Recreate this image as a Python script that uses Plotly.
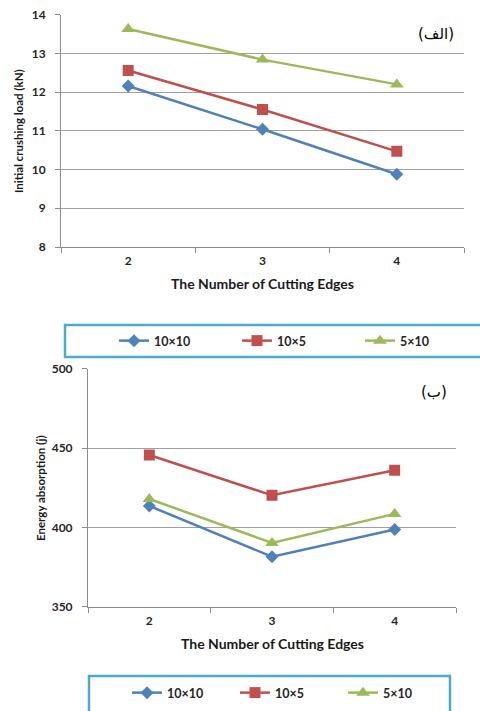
import plotly.graph_objects as go

W, H = 480, 711

# Categories (number of cutting edges)
edges = ["2", "3", "4"]
series_names = ["10×10", "10×5", "5×10"]

# Initial crushing load (kN)
load_10x10 = [12.16, 11.04, 9.88]
load_10x5 = [12.56, 11.55, 10.47]
load_5x10 = [13.63, 12.84, 12.20]

# Energy absorption (j)
energy_10x10 = [413.5, 381.5, 398.6]
energy_10x5 = [445.6, 420.2, 436.0]
energy_5x10 = [417.9, 390.2, 408.5]

load_ticks = [8, 9, 10, 11, 12, 13, 14]
energy_ticks = [350, 400, 450, 500]

COLORS = ["#4F81BD", "#C0504D", "#9BBB59"]
SYMBOLS = ["diamond", "square", "triangle-up"]
SIZES = [10, 11, 12]
FONT = "Lato"
AXIS_GRAY = "#8C8C8C"
BOX_COLOR = "#4BACC6"


def fx(px):
    return px / W


def fy(py):
    return 1 - py / H


fig = go.Figure()

for name, vals, col, sym, sz in zip(series_names, [load_10x10, load_10x5, load_5x10],
                                     COLORS, SYMBOLS, SIZES):
    fig.add_trace(go.Scatter(
        x=edges, y=vals, name=name, mode="lines+markers",
        line=dict(color=col, width=2.5),
        marker=dict(symbol=sym, size=sz, color=col),
        xaxis="x", yaxis="y", legend="legend",
    ))

for name, vals, col, sym, sz in zip(series_names, [energy_10x10, energy_10x5, energy_5x10],
                                     COLORS, SYMBOLS, SIZES):
    fig.add_trace(go.Scatter(
        x=edges, y=vals, name=name, mode="lines+markers",
        line=dict(color=col, width=2.5),
        marker=dict(symbol=sym, size=sz, color=col),
        xaxis="x2", yaxis="y2", legend="legend2",
    ))

tick_font = dict(family=FONT, size=12, color="#262626", weight="bold")

xcommon = dict(
    type="category", range=[-0.5, 2.5], tickson="boundaries", ticks="outside",
    ticklen=5, tickcolor=AXIS_GRAY, showline=True, linecolor=AXIS_GRAY,
    linewidth=1, showgrid=False, tickfont=tick_font, ticklabelstandoff=3,
    fixedrange=True,
)
ycommon = dict(
    ticks="outside", ticklen=5, tickcolor=AXIS_GRAY, showline=True,
    linecolor=AXIS_GRAY, linewidth=1, showgrid=True, gridcolor="#A0A0A0",
    gridwidth=1, zeroline=False, tickfont=tick_font, ticklabelstandoff=7,
    fixedrange=True,
)

legend_common = dict(
    orientation="h", xanchor="left", yanchor="middle",
    bgcolor="rgba(0,0,0,0)", borderwidth=0,
    font=dict(family=FONT, size=12.5, color="#262626", weight="bold"),
    itemclick=False, itemdoubleclick=False, entrywidthmode="pixels",
)

fig.update_layout(
    width=W, height=H,
    margin=dict(l=0, r=0, t=0, b=0, autoexpand=False),
    paper_bgcolor="white", plot_bgcolor="white",
    xaxis=dict(domain=[fx(61), fx(464)], anchor="y", **xcommon),
    yaxis=dict(domain=[fy(247), fy(14.7)], anchor="x", range=[8, 14],
               tickvals=load_ticks, **ycommon),
    xaxis2=dict(domain=[fx(88), fx(456)], anchor="y2", **xcommon),
    yaxis2=dict(domain=[fy(606.7), fy(368.7)], anchor="x2", range=[350, 500],
                tickvals=energy_ticks, **ycommon),
    legend=dict(x=fx(114), y=fy(341), entrywidth=78, **legend_common),
    legend2=dict(x=fx(127), y=fy(693), entrywidth=63, **legend_common),
    showlegend=True,
)

# Legend frames
fig.add_shape(type="rect", xref="paper", yref="paper",
              x0=fx(65), x1=fx(490), y0=fy(357), y1=fy(325),
              line=dict(color=BOX_COLOR, width=2.5), fillcolor="rgba(0,0,0,0)")
fig.add_shape(type="rect", xref="paper", yref="paper",
              x0=fx(89), x1=fx(450), y0=fy(720), y1=fy(676),
              line=dict(color=BOX_COLOR, width=2.5), fillcolor="rgba(0,0,0,0)")

title_font = dict(family=FONT, size=14, color="#1a1a1a", weight="bold")
ytitle_font = dict(family=FONT, size=11.5, color="#1a1a1a", weight="bold")

annotations = [
    dict(text="The Number of Cutting Edges", x=fx(262.5), y=fy(283),
         font=title_font),
    dict(text="The Number of Cutting Edges", x=fx(272), y=fy(643),
         font=title_font),
    dict(text="Initial crushing load (kN)", x=fx(18), y=fy(131),
         textangle=-90, font=ytitle_font),
    dict(text="Energy absorption (j)", x=fx(40), y=fy(488),
         textangle=-90, font=ytitle_font),
    dict(text="(الف)", x=fx(456), y=fy(34), xanchor="right",
         font=dict(family="DejaVu Sans", size=15, color="#000000")),
    dict(text="(ب)", x=fx(449), y=fy(392), xanchor="right",
         font=dict(family="DejaVu Sans", size=15, color="#000000")),
]
for a in annotations:
    a.setdefault("xanchor", "center")
    fig.add_annotation(xref="paper", yref="paper", yanchor="middle",
                       showarrow=False, **a)

fig.write_html("out.html")
